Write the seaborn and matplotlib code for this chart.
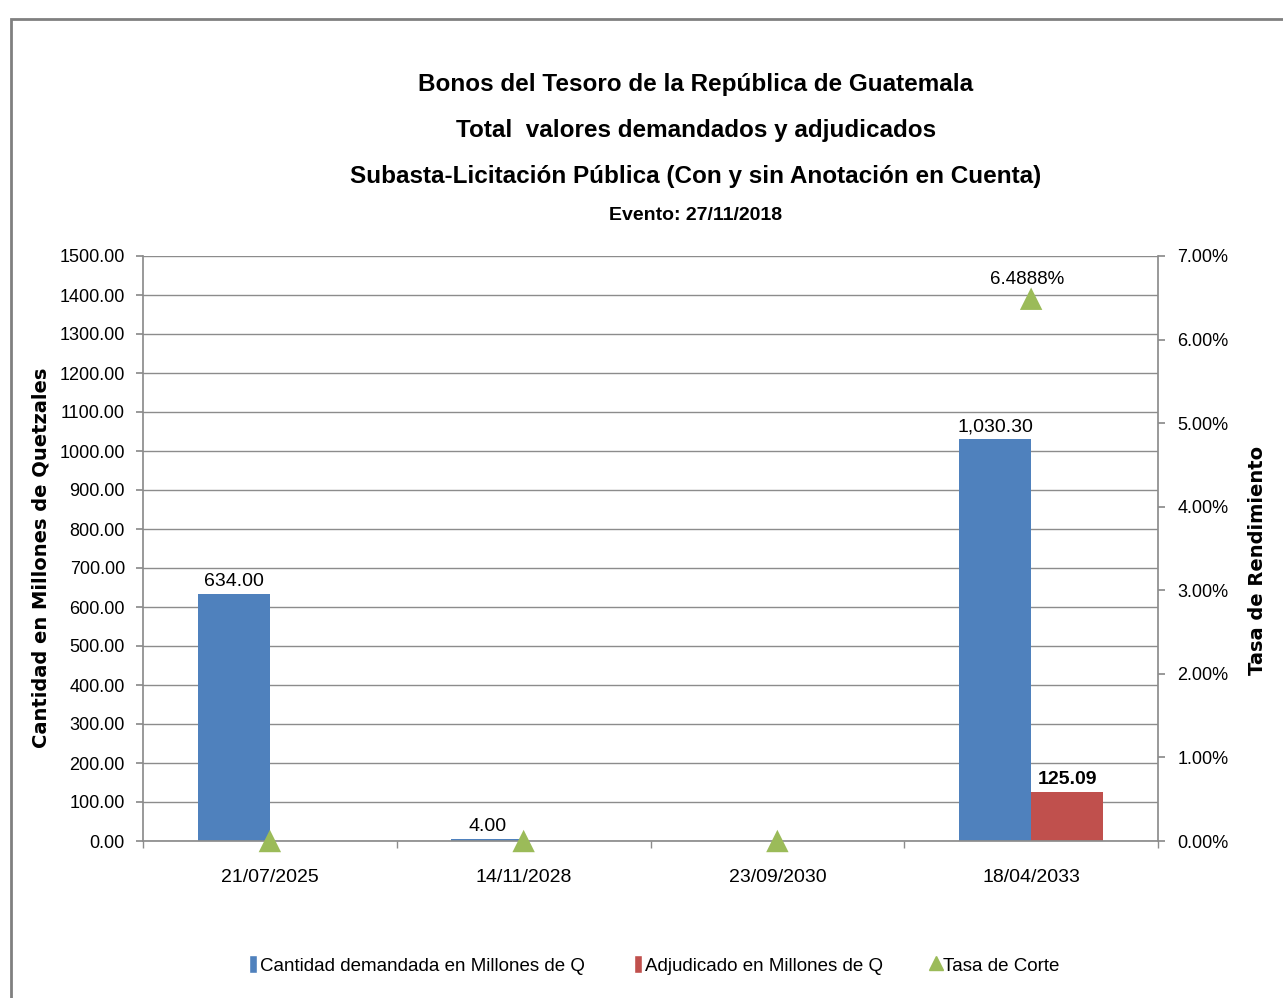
import numpy as np
import pandas as pd
import matplotlib.pyplot as plt
from matplotlib.lines import Line2D
from matplotlib.patches import Patch, Rectangle
from matplotlib.ticker import MultipleLocator, FixedLocator, FuncFormatter
import seaborn as sns

# Datos del evento
fechas = ['21/07/2025', '14/11/2028', '23/09/2030', '18/04/2033']
demandado = [634.00, 4.00, 0.00, 1030.30]
adjudicado = [0.00, 0.00, 0.00, 125.09]
tasa_corte = [0.0, 0.0, 0.0, 6.4888]

series = ['Cantidad demandada en Millones de Q', 'Adjudicado en Millones de Q', 'Tasa de Corte']
titulos = ['Bonos del Tesoro de la República de Guatemala',
           'Total  valores demandados y adjudicados',
           'Subasta-Licitación Pública (Con y sin Anotación en Cuenta)']
evento = 'Evento: 27/11/2018'

colores = ['#4F81BD', '#C0504D']
verde = '#9BBB59'
gris = '#8C8C8C'

sns.set_theme(style='white')
plt.rcParams['font.family'] = ['Liberation Sans', 'DejaVu Sans']
plt.rcParams['text.color'] = 'black'
plt.rcParams['axes.labelcolor'] = 'black'
plt.rcParams['xtick.color'] = 'black'
plt.rcParams['ytick.color'] = 'black'

df = pd.DataFrame({
    'Fecha': fechas * 2,
    'Serie': [series[0]] * len(fechas) + [series[1]] * len(fechas),
    'Valor': demandado + adjudicado,
})

fig = plt.figure(figsize=(12.83, 9.98), dpi=100)
ax = fig.add_axes([143 / 1283, 1 - 841 / 998, (1158 - 143) / 1283, (841 - 256) / 998])

sns.barplot(data=df, x='Fecha', y='Valor', hue='Serie', palette=colores,
            width=0.57, gap=0, saturation=1, errorbar=None, linewidth=0,
            legend=False, ax=ax)

# etiquetas de datos
for cont, vals, peso in zip(ax.containers, [demandado, adjudicado], ['normal', 'bold']):
    labs = [f'{v:,.2f}' if v > 0 else '' for v in vals]
    ax.bar_label(cont, labels=labs, padding=3, fontsize=14, fontweight=peso)

ax.set_xlim(-0.5, 3.5)
ax.set_ylim(0, 1500)
ax.yaxis.set_major_locator(MultipleLocator(100))
ax.yaxis.set_major_formatter(FuncFormatter(lambda v, p: f'{v:.2f}'))
ax.grid(axis='y', color=gris, lw=1)
ax.grid(axis='x', visible=False)
ax.set_axisbelow(True)
ax.xaxis.set_minor_locator(FixedLocator(np.arange(-0.5, 4, 1)))
ax.tick_params(axis='x', which='major', length=0, pad=20, labelsize=14)
ax.tick_params(axis='x', which='minor', length=5, color=gris, bottom=True, direction='out')
ax.tick_params(axis='y', length=5, color=gris, left=True, direction='out', pad=8, labelsize=13)
ax.set_xlabel('')
ax.set_ylabel('Cantidad en Millones de Quetzales', fontsize=14, fontweight='bold',
              family='DejaVu Sans')
ax.yaxis.set_label_coords(-0.0916, 0.484)
for s in ['top', 'right']:
    ax.spines[s].set_visible(False)
for s in ['left', 'bottom']:
    ax.spines[s].set_color(gris)

# eje secundario: tasa de corte
ax2 = ax.twinx()
sns.scatterplot(x=range(len(fechas)), y=tasa_corte, marker='^', s=260, color=verde,
                edgecolor='none', clip_on=False, zorder=5, ax=ax2)
for i, t in enumerate(tasa_corte):
    if t > 0:
        ax2.annotate(f'{t:.4f}%', (i, t), xytext=(-3, 8), textcoords='offset points',
                     ha='center', va='bottom', fontsize=13.5)
ax2.set_ylim(0, 7)
ax2.yaxis.set_major_locator(MultipleLocator(1))
ax2.yaxis.set_major_formatter(FuncFormatter(lambda v, p: f'{v:.2f}%'))
ax2.tick_params(axis='y', length=5, color=gris, right=True, direction='out', pad=9, labelsize=13)
ax2.grid(False)
ax2.set_ylabel('Tasa de Rendimiento', fontsize=14, fontweight='bold', family='DejaVu Sans')
ax2.yaxis.set_label_coords(1.0887, 0.480)
for s in ['top', 'left', 'bottom']:
    ax2.spines[s].set_visible(False)
ax2.spines['right'].set_color(gris)

# titulos
cx = 696 / 1283
for txt, y in zip(titulos, [85, 130, 176]):
    fig.text(cx, 1 - y / 998, txt, ha='center', va='center', fontsize=17.5, fontweight='bold')
fig.text(cx, 1 - 216 / 998, evento, ha='center', va='center', fontsize=14, fontweight='bold')

# leyenda
handles = [Patch(facecolor=colores[0]), Patch(facecolor=colores[1]),
           Line2D([], [], marker='^', color=verde, ls='', markersize=10)]
fig.legend(handles, series, loc='center', bbox_to_anchor=(654 / 1283, 1 - 965 / 998),
           ncol=3, frameon=False, fontsize=13.5, handlelength=0.45, handleheight=1.1,
           handletextpad=0.15, columnspacing=2.6)

# marco
fig.add_artist(Rectangle((11 / 1283, -0.1), 1.2, 1 - 19 / 998 + 0.1, transform=fig.transFigure,
                         fill=False, edgecolor='#808080', lw=2))

fig.savefig('out.png', dpi=100)
